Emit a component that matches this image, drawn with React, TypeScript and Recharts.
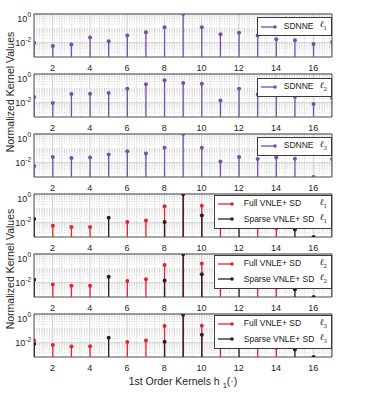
import { ComposedChart, Bar, XAxis, YAxis, Legend, ReferenceArea, ReferenceLine } from 'recharts';

const FONT = '"Liberation Sans", Arial, Helvetica, sans-serif';
const INK = '#262626';
const PURPLE = '#7450ad';
const RED = '#e3262d';
const BLACK = '#222222';

// kernel index h_1(k)
const kernels = [1, 2, 3, 4, 5, 6, 7, 8, 9, 10, 11, 12, 13, 14, 15, 16, 17];

// SDNNE, one array per loss
const sdnneL1 = [0.010, 0.0058, 0.0075, 0.023, 0.0126, 0.031, 0.053, 0.12, 1, 0.12, 0.039, 0.05, 0.031, 0.017, 0.015, 0.008, 0.011];
const sdnneL2 = [0.025, 0.0095, 0.04, 0.042, 0.047, 0.093, 0.19, 0.37, 0.24, 0.21, 0.014, 0.093, 0.037, 0.037, 0.026, 0.008, 0.021];
const sdnneL3 = [0.0059, 0.025, 0.021, 0.023, 0.037, 0.063, 0.044, 0.11, 1, 0.11, 0.012, 0.025, 0.018, 0.023, 0.019, 0.001, 0.017];

// VNLE + SD, full vs sparse (null = pruned / not drawn)
const fullL1 = [null, 0.006, 0.005, 0.005, null, 0.011, 0.014, 0.14, 1, 0.15, 0.2, null, 0.0047, 0.004, null, null, null];
const sparseL1 = [0.018, null, null, null, 0.022, null, null, 0.011, 1, 0.031, null, 0.0085, null, null, 0.0034, 0.001, 0.0047];
const fullL2 = [null, 0.0076, 0.0061, 0.0061, null, 0.013, 0.017, 0.17, 1, 0.22, 0.2, null, 0.0055, 0.0044, null, null, null];
const sparseL2 = [0.016, null, null, null, 0.026, null, null, 0.014, 1, 0.038, null, 0.009, null, null, 0.0034, 0.001, 0.0055];
const fullL3 = [0.014, 0.0068, 0.0055, 0.0057, null, 0.011, 0.014, 0.145, 0.85, 0.15, 0.2, null, 0.0051, 0.0042, null, null, 0.0051];
const sparseL3 = [0.008, null, null, null, 0.022, null, null, 0.0115, 1, 0.036, null, 0.009, null, null, 0.0034, 0.001, null];

const xTicks = [2, 4, 6, 8, 10, 12, 14, 16];
const xMinor = [1.5, 2.5, 3, 3.5, 4.5, 5, 5.5, 6.5, 7, 7.5, 8.5, 9, 9.5, 10.5, 11, 11.5, 12.5, 13, 13.5, 14.5, 15, 15.5, 16.5];
const yTicks = [0.01, 1];
const yMinor = [
  0.002, 0.003, 0.004, 0.005, 0.006, 0.007, 0.008, 0.009,
  0.02, 0.03, 0.04, 0.05, 0.06, 0.07, 0.08, 0.09,
  0.1, 0.2, 0.3, 0.4, 0.5, 0.6, 0.7, 0.8, 0.9,
];

type Series = { name: string; sub: string; color: string; values: (number | null)[] };
type Panel = { top: number; series: Series[]; legendTop: number; labelWidth: number; gap: number };

const panels: Panel[] = [
  { top: 13.5, legendTop: 17, labelWidth: 36, gap: 7, series: [{ name: 'SDNNE', sub: '1', color: PURPLE, values: sdnneL1 }] },
  { top: 74, legendTop: 77.5, labelWidth: 36, gap: 7, series: [{ name: 'SDNNE', sub: '2', color: PURPLE, values: sdnneL2 }] },
  { top: 134, legendTop: 136.5, labelWidth: 36, gap: 7, series: [{ name: 'SDNNE', sub: '3', color: PURPLE, values: sdnneL3 }] },
  {
    top: 194, legendTop: 194.5, labelWidth: 76, gap: 10, series: [
      { name: 'Full VNLE+ SD', sub: '1', color: RED, values: fullL1 },
      { name: 'Sparse VNLE+ SD', sub: '1', color: BLACK, values: sparseL1 },
    ],
  },
  {
    top: 254, legendTop: 254.5, labelWidth: 76, gap: 10, series: [
      { name: 'Full VNLE+ SD', sub: '2', color: RED, values: fullL2 },
      { name: 'Sparse VNLE+ SD', sub: '2', color: BLACK, values: sparseL2 },
    ],
  },
  {
    top: 314, legendTop: 314.5, labelWidth: 76, gap: 10, series: [
      { name: 'Full VNLE+ SD', sub: '3', color: RED, values: fullL3 },
      { name: 'Sparse VNLE+ SD', sub: '3', color: BLACK, values: sparseL3 },
    ],
  },
];

const W = 369;
const H = 66;
const MARGIN = { top: 5, right: 37, bottom: 0, left: 0 };

function Stem(props: any) {
  const { x, y, width, height, payload, field, color } = props;
  const v = payload?.[field];
  if (v == null || !Number.isFinite(y) || !Number.isFinite(height)) return <g />;
  const cx = x + width / 2;
  return (
    <g>
      <line x1={cx} x2={cx} y1={y} y2={y + height} stroke={color} strokeWidth={1.3} />
      <circle cx={cx} cy={y} r={2} fill={color} />
    </g>
  );
}

function PowTick({ x, y, payload }: any) {
  const exp = Math.round(Math.log10(payload.value));
  return (
    <text x={x} y={y} dy={3.5} textAnchor="end" fontSize={9} fill={INK} fontFamily={FONT}>
      10<tspan dy={-4.5} fontSize={6.5}>{exp === 0 ? '0' : `-${Math.abs(exp)}`}</tspan>
    </text>
  );
}

function KeyBox({ series, labelWidth, gap }: { series: Series[]; labelWidth: number; gap: number }) {
  return (
    <div style={{
      background: '#fff', border: '1px solid #3a3a3a', padding: '1px 4px 1px 2px',
      fontFamily: FONT, fontSize: 8.5, color: '#1a1a1a', lineHeight: '11.5px',
    }}>
      {series.map(s => (
        <div key={s.name} style={{ display: 'flex', alignItems: 'center', whiteSpace: 'nowrap' }}>
          <svg width={17} height={8} style={{ display: 'block' }}>
            <line x1={1} x2={16} y1={4} y2={4} stroke={s.color} strokeWidth={1.3} />
            <circle cx={15} cy={4} r={1.8} fill={s.color} />
          </svg>
          <span style={{ marginLeft: gap, width: labelWidth, display: 'inline-block' }}>{s.name}</span>
          <span style={{ fontStyle: 'italic', fontFamily: '"DejaVu Serif", serif', fontSize: 9 }}>
            ℓ<sub style={{ fontSize: 5.5, fontStyle: 'normal' }}>{s.sub}</sub>
          </span>
        </div>
      ))}
    </div>
  );
}

// shared axes so the grid layer and the stem layer line up exactly
function axes(showTicks: boolean) {
  return [
    <XAxis key="x" dataKey="k" type="number" domain={[1, 17]} ticks={xTicks} allowDataOverflow
      height={18} tickSize={0} tickMargin={7.5} axisLine={false}
      tick={showTicks ? { fontSize: 9, fill: INK, fontFamily: FONT } : false} />,
    <YAxis key="y" scale="log" type="number" domain={[0.001, 1]} ticks={yTicks} allowDataOverflow
      width={34} tickSize={0} tickMargin={3} axisLine={false} tick={showTicks ? <PowTick /> : false} />,
  ];
}

function StemPanel({ panel }: { panel: Panel }) {
  const data = kernels.map((k, i) => {
    const row: Record<string, number | null> = { k };
    panel.series.forEach((s, j) => { row[`s${j}`] = s.values[i]; });
    return row;
  });
  return (
    <div style={{ position: 'absolute', left: 0, top: panel.top - 5, width: W, height: H }}>
      {/* back layer: minor (dotted) and major (solid) grid */}
      <div style={{ position: 'absolute', left: 0, top: 0 }}>
        <ComposedChart width={W} height={H} data={data} margin={MARGIN}>
          {axes(false)}
          {yMinor.map(v => <ReferenceLine key={`ny${v}`} y={v} stroke="#cdcdcd" strokeDasharray="1 1.5" strokeWidth={0.8} />)}
          {xMinor.map(v => <ReferenceLine key={`nx${v}`} x={v} stroke="#cdcdcd" strokeDasharray="1 1.5" strokeWidth={0.8} />)}
          {yTicks.map(v => <ReferenceLine key={`my${v}`} y={v} stroke="#d2d2d2" />)}
          {xTicks.map(v => <ReferenceLine key={`mx${v}`} x={v} stroke="#d2d2d2" />)}
        </ComposedChart>
      </div>
      {/* front layer: frame, stems, ticks, legend */}
      <div style={{ position: 'absolute', left: 0, top: 0 }}>
        <ComposedChart width={W} height={H} data={data} barGap={-3} margin={MARGIN}>
          {axes(true)}
          <ReferenceArea x1={1} x2={17} y1={0.001} y2={1} fill="none" stroke="#4a4a4a" strokeWidth={1} ifOverflow="visible" />
          {panel.series.map((s, j) => (
            <Bar key={s.name} dataKey={`s${j}`} barSize={3} isAnimationActive={false}
              shape={(p: any) => <Stem {...p} field={`s${j}`} color={s.color} />} />
          ))}
          <Legend layout="vertical" align="center" verticalAlign="middle"
            wrapperStyle={{ top: panel.legendTop - panel.top + 5, right: 37, left: 'auto', width: 'auto' }}
            content={() => <KeyBox series={panel.series} labelWidth={panel.labelWidth} gap={panel.gap} />} />
        </ComposedChart>
      </div>
    </div>
  );
}

export default function App() {
  return (
    <div style={{ position: 'absolute', left: 0, top: 0, width: W, height: 403, background: '#fff', fontFamily: FONT }}>
      <svg width={W} height={403} style={{ position: 'absolute', left: 0, top: 0 }}>
        <text transform="translate(14, 92) rotate(-90)" textAnchor="middle" fontSize={10.5} fill={INK} fontFamily={FONT}>
          Normalized Kernel Values
        </text>
        <text transform="translate(14, 269) rotate(-90)" textAnchor="middle" fontSize={10.5} fill={INK} fontFamily={FONT}>
          Normalized Kernel Values
        </text>
        <text x={183} y={385} textAnchor="middle" fontSize={10.5} fill={INK} fontFamily={FONT}>
          1st Order Kernels h <tspan dy={3} fontSize={7.5}>1</tspan><tspan dy={-3}>(·)</tspan>
        </text>
      </svg>
      {panels.map((p, i) => <StemPanel key={i} panel={p} />)}
    </div>
  );
}
